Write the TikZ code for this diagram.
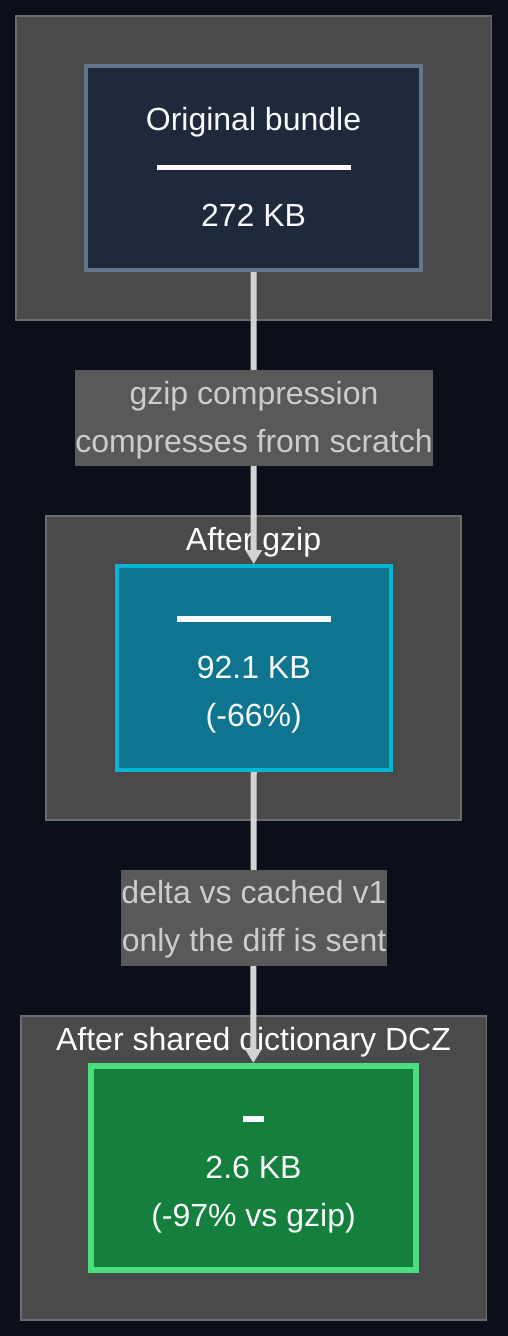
\documentclass[tikz,border=0pt]{standalone}
\usepackage{fontspec}
\setmainfont{Liberation Sans}
\usetikzlibrary{arrows.meta}
\definecolor{bg}{HTML}{0B0F19}
\definecolor{clfill}{HTML}{4A4A4A}
\definecolor{cldraw}{HTML}{6B6B6B}
\definecolor{nafill}{HTML}{1E293B}
\definecolor{nadraw}{HTML}{64748B}
\definecolor{nbfill}{HTML}{0E7490}
\definecolor{nbdraw}{HTML}{06B6D4}
\definecolor{ncfill}{HTML}{15803D}
\definecolor{ncdraw}{HTML}{4ADE80}
\definecolor{lblfill}{HTML}{595959}
\definecolor{lbltext}{HTML}{CCCCCC}
\definecolor{edgecol}{HTML}{D3D3D3}
\definecolor{ntext}{HTML}{F8FAFC}
\pgfdeclarelayer{back}
\pgfdeclarelayer{edges}
\pgfsetlayers{back,edges,main}
\begin{document}
\begin{tikzpicture}[x=1pt,y=-1pt,
  every node/.style={font=\fontsize{32}{48}\selectfont},
  cluster/.style={draw=cldraw, fill=clfill, line width=1.5pt, rectangle, minimum height=304pt, inner sep=0pt},
  box/.style={rectangle, inner sep=0pt, minimum height=204pt},
  txt/.style={anchor=base, inner sep=0pt, text=ntext},
  ctitle/.style={anchor=base, inner sep=0pt, text=white},
  lbl/.style={fill=lblfill, inner sep=0pt, minimum height=96pt},
  lbltxt/.style={anchor=base, inner sep=0pt, text=lbltext},
  flow/.style={draw=edgecol, line width=6pt, -{Triangle[length=14pt,width=16pt]}},
  bar/.style={fill=ntext}
]
\begin{pgfonlayer}{back}
\fill[bg] (0,0) rectangle (508,1336);
\node[cluster, minimum width=475.5pt] (c1) at (253.75,168) {};
\node[cluster, minimum width=415pt] (c2) at (253.5,668) {};
\node[cluster, minimum width=465.5pt] (c3) at (253.75,1168) {};
\node[ctitle] (t2) at (253.5,550.5) {After gzip};
\node[ctitle] (t3) at (253.5,1050) {After shared dictionary DCZ};
\end{pgfonlayer}
\useasboundingbox (0,0) rectangle (508,1336);

\node[box, fill=nafill, draw=nadraw, line width=4pt, minimum width=335pt] (n1) at (253.5,168) {};
\node[box, fill=nbfill, draw=nbdraw, line width=4pt, minimum width=273.5pt] (n2) at (253.75,668) {};
\node[box, fill=ncfill, draw=ncdraw, line width=6pt, minimum width=324.7pt, minimum height=203.7pt] (n3) at (253.35,1167.85) {};

\begin{pgfonlayer}{edges}
\draw[flow] (n1.south) -- (n2.north);
\draw[flow] (n2.south) -- (n3.north);
\end{pgfonlayer}

\node[lbl, minimum width=358pt] (l1) at (254,418) {};
\node[lbltxt] (l1a) at (254,404) {gzip compression};
\node[lbltxt] (l1b) at (254,452) {compresses from scratch};
\node[lbl, minimum width=266pt] (l2) at (254,918) {};
\node[lbltxt] (l2a) at (254,903.3) {delta vs cached v1};
\node[lbltxt] (l2b) at (254,951) {only the diff is sent};

\node[txt] (n1a) at (253.5,130.5) {Original bundle};
\fill[bar] (157,164.5) rectangle (351,169.5);
\node[txt] (n1b) at (253.5,226.5) {272 KB};

\fill[bar] (177,616) rectangle (331,622);
\node[txt] (n2a) at (253.75,678.5) {92.1 KB};
\node[txt] (n2b) at (253.75,726) {(-66\%)};

\fill[bar] (243.3,1116.3) rectangle (264.3,1122);
\node[txt] (n3a) at (253.5,1178.5) {2.6 KB};
\node[txt] (n3b) at (253.5,1226.5) {(-97\% vs gzip)};
\end{tikzpicture}
\end{document}
